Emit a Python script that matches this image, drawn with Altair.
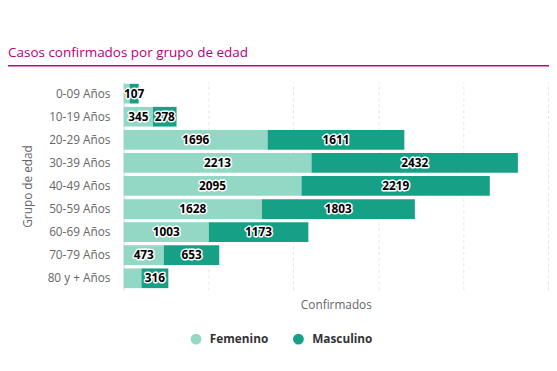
import altair as alt
import pandas as pd

grupos = ["0-09 Años", "10-19 Años", "20-29 Años", "30-39 Años", "40-49 Años",
          "50-59 Años", "60-69 Años", "70-79 Años", "80 y + Años"]
femenino = [70, 345, 1696, 2213, 2095, 1628, 1003, 473, 210]
masculino = [107, 278, 1611, 2432, 2219, 1803, 1173, 653, 316]
fem_label_visible = [False, True, True, True, True, True, True, True, False]
masc_label_visible = [True] * 9

rows = []
for i, g in enumerate(grupos):
    rows.append({"grupo": g, "sexo": "Femenino", "orden": 0, "valor": femenino[i],
                 "label": str(femenino[i]) if fem_label_visible[i] else ""})
    rows.append({"grupo": g, "sexo": "Masculino", "orden": 1, "valor": masculino[i],
                 "label": str(masculino[i]) if masc_label_visible[i] else ""})
df = pd.DataFrame(rows)

FONT = "Open Sans"
colors = ["#93d8c4", "#16a085"]

yscale = alt.Scale(domain=grupos, paddingInner=0.13, paddingOuter=0.065)
xscale = alt.Scale(domain=[0, 5000], nice=False)

base = alt.Chart(df).transform_stack(
    stack="valor", groupby=["grupo"], as_=["x0", "x1"],
    sort=[alt.SortField("orden", order="ascending")]
).transform_calculate(mid="(datum.x0 + datum.x1) / 2")

bars = base.mark_bar(size=20).encode(
    y=alt.Y("grupo:N", scale=yscale, sort=grupos,
            axis=alt.Axis(title="Grupo de edad", labelColor="#666666", labelFontSize=12,
                          labelFont=FONT, titleFont=FONT, titleFontSize=12,
                          titleFontWeight="normal", titleColor="#666666",
                          ticks=False, domainColor="#ccd6eb", labelPadding=14,
                          titlePadding=13, grid=False)),
    x=alt.X("x0:Q", scale=xscale,
            axis=alt.Axis(title="Confirmados", labels=False, ticks=False, domain=False,
                          grid=True, gridColor="#e6e6e6", gridDash=[3, 3],
                          values=[1000, 2000, 3000, 4000, 5000],
                          titleFont=FONT, titleFontSize=12, titleFontWeight="normal",
                          titleColor="#666666", titlePadding=10)),
    x2="x1:Q",
    color=alt.Color("sexo:N", scale=alt.Scale(domain=["Femenino", "Masculino"], range=colors),
                    legend=alt.Legend(title=None, orient="none", direction="horizontal",
                                      legendX=67.5, legendY=255, symbolType="circle",
                                      symbolSize=121, symbolStrokeWidth=0,
                                      labelFont=FONT, labelFontSize=12, labelFontWeight="bold",
                                      labelColor="#333333", labelOffset=8, columnPadding=24)),
)

outline = base.mark_text(font=FONT, fontSize=12, fontWeight="bold", stroke="white",
                         strokeWidth=3, strokeJoin="round", fill="white").encode(
    y=alt.Y("grupo:N", scale=yscale, sort=grupos),
    x=alt.X("mid:Q", scale=xscale),
    text="label:N",
)
labels = base.mark_text(font=FONT, fontSize=12, fontWeight="bold", fill="#000000").encode(
    y=alt.Y("grupo:N", scale=yscale, sort=grupos),
    x=alt.X("mid:Q", scale=xscale),
    text="label:N",
)

title_df = pd.DataFrame({"t": ["Casos confirmados por grupo de edad"]})
title = alt.Chart(title_df).mark_text(font=FONT, fontSize=13.7, color="#b5007c",
                                      align="left", baseline="alphabetic").encode(
    x=alt.value(-117.5), y=alt.value(-25.5), text="t:N")
underline = alt.Chart(title_df).mark_rule(color="#c0087f", strokeWidth=1.5).encode(
    x=alt.value(-117.5), x2=alt.value(440), y=alt.value(-16.5))

chart = alt.layer(bars, outline, labels, title, underline).properties(
    width=431, height=211,
    autosize=alt.AutoSizeParams(type="none"),
    padding={"left": 117.5, "top": 72.5, "right": 1, "bottom": 68},
).configure_view(stroke=None)

chart.save("out.html", embed_options={"renderer": "svg", "actions": False})
